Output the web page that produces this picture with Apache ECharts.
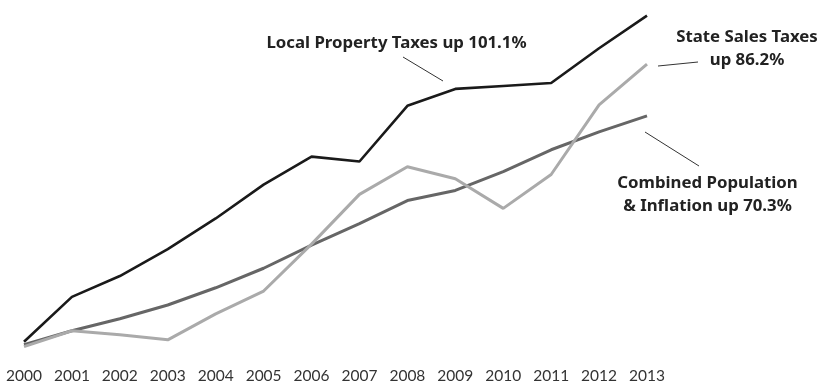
<!DOCTYPE html>
<html>
<head>
<meta charset="utf-8">
<script src="https://cdn.jsdelivr.net/npm/echarts@6/dist/echarts.min.js"></script>
<style>
html,body{margin:0;padding:0;background:#fff;}
#chart{width:831px;height:384px;}
</style>
</head>
<body>
<div id="chart"></div>
<script>
var years = ['2000','2001','2002','2003','2004','2005','2006','2007','2008','2009','2010','2011','2012','2013'];
var localProperty = [0.9, 14.7, 21.1, 29.4, 38.8, 49.2, 57.8, 56.3, 73.4, 78.6, 79.5, 80.4, 91.1, 101.1];
var stateSales = [-0.6, 4.3, 3.1, 1.5, 9.5, 16.5, 30.9, 46.2, 54.7, 51.0, 41.9, 52.3, 73.7, 86.2];
var combined = [0, 4.3, 8.0, 12.2, 17.5, 23.5, 30.6, 37.2, 44.3, 47.4, 53.2, 59.9, 65.4, 70.3];

var chart = echarts.init(document.getElementById('chart'));
var txt = {fontFamily: 'Noto Sans', fontWeight: 'bold', fontSize: 16.8, fill: '#222'};
function label(text, x, y){
  return {type:'text', x:x, y:y, style:Object.assign({text:text, textAlign:'center', textVerticalAlign:'middle'}, txt)};
}
function leader(x1,y1,x2,y2){
  return {type:'line', shape:{x1:x1,y1:y1,x2:x2,y2:y2}, style:{stroke:'#333', lineWidth:1}};
}
chart.setOption({
  animation:false,
  grid:{left:24, right:184, top:3, bottom:22},
  xAxis:{type:'category', data:years, boundaryGap:false,
    axisLine:{show:false}, axisTick:{show:false}, splitLine:{show:false},
    axisLabel:{color:'#333', fontFamily:'Lato', fontSize:15.5, margin:7, interval:0}},
  yAxis:{type:'value', min:-5, max:105, show:false, splitLine:{show:false}},
  series:[
    {name:'Combined Population & Inflation', type:'line', data:combined, symbol:'none',
     lineStyle:{color:'#666666', width:3}, z:2},
    {name:'State Sales Taxes', type:'line', data:stateSales, symbol:'none',
     lineStyle:{color:'#aaaaaa', width:3}, z:3},
    {name:'Local Property Taxes', type:'line', data:localProperty, symbol:'none',
     lineStyle:{color:'#1a1a1a', width:2.6}, z:4}
  ],
  graphic:[
    label('Local Property Taxes up 101.1%', 396.5, 43.5),
    leader(403,57,443,81),
    label('State Sales Taxes', 747, 37.5),
    label('up 86.2%', 747, 60),
    leader(658,66,698,62),
    label('Combined Population', 707.5, 183.5),
    label('& Inflation up 70.3%', 707.5, 206),
    leader(645,132,699,166)
  ]
});
</script>
</body>
</html>
